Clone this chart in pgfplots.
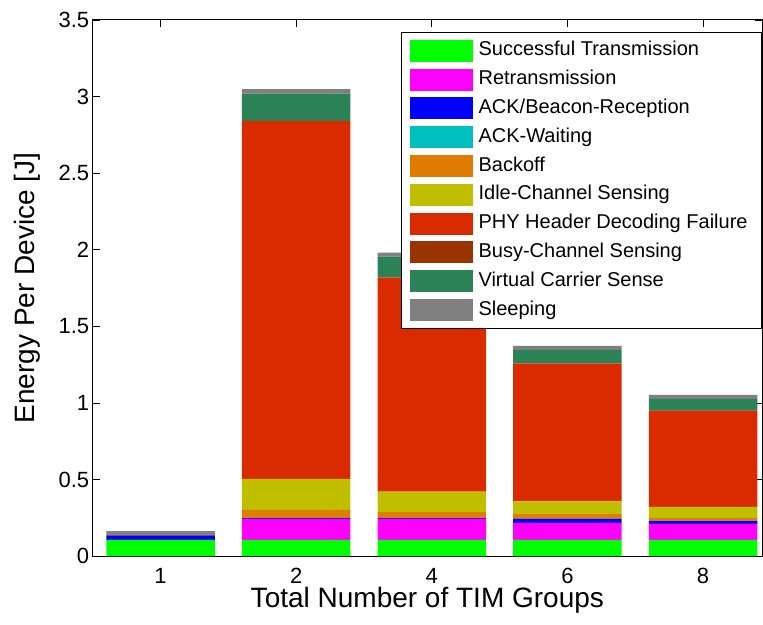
\documentclass[border=0pt]{standalone}
\usepackage{fontspec}
\setmainfont{Liberation Sans}
\usepackage{pgfplots}
\usepackage{pgfplotstable}
\pgfplotsset{compat=1.18}
\definecolor{cSucc}{RGB}{0,255,0}
\definecolor{cRetx}{RGB}{255,0,255}
\definecolor{cAck}{RGB}{0,0,255}
\definecolor{cAckW}{RGB}{0,191,191}
\definecolor{cBack}{RGB}{224,125,0}
\definecolor{cIdle}{RGB}{191,191,0}
\definecolor{cPhy}{RGB}{218,42,0}
\definecolor{cBusy}{RGB}{153,51,0}
\definecolor{cVcs}{RGB}{44,130,87}
\definecolor{cSleep}{RGB}{128,128,128}
\pgfplotstableread{
x succ retx ack ackw backoff idle phy busy vcs sleep
1 0.105 0.000 0.028 0.000 0.000 0.000 0.000 0.004 0.000 0.026
2 0.105 0.137 0.006 0.001 0.052 0.203 2.335 0.002 0.178 0.030
3 0.105 0.137 0.006 0.001 0.038 0.133 1.398 0.002 0.135 0.026
4 0.105 0.111 0.026 0.001 0.031 0.083 0.899 0.002 0.088 0.026
5 0.105 0.104 0.019 0.001 0.019 0.072 0.627 0.002 0.077 0.026
}\datatable
\begin{document}
\begin{tikzpicture}
\begin{axis}[
  at={(0,0)}, anchor=south west,
  scale only axis,
  width=669.3pt, height=536pt,
  xmin=0.5, xmax=5.435, ymin=0, ymax=3.5,
  enlargelimits=false,
  ybar stacked, bar width=0.8,
  xtick={1,2,3,4,5}, xticklabels={1,2,4,6,8},
  ytick={0,0.5,1,1.5,2,2.5,3,3.5},
  tick align=inside,
  major tick length=7pt,
  tick style={black, line width=0.6pt},
  axis line style={black, line width=1pt},
  /pgf/number format/assume math mode=true,
  tick label style={font=\fontsize{22}{26}\selectfont},
  xticklabel style={anchor=base, yshift=-27pt, inner sep=0pt},
  label style={font=\fontsize{28}{34}\selectfont},
  xlabel={Total Number of TIM Groups},
  ylabel={Energy Per Device [J]},
  xlabel style={at={(axis description cs:0.5,0)}, anchor=base, yshift=-51pt, inner sep=0pt},
  ylabel style={at={(axis description cs:-0.0787,0.5)}, anchor=south, inner sep=0pt},
  legend image code/.code={\fill[#1] (0pt,-11pt) rectangle (63pt,11pt);},
  legend style={
    at={(1,1)}, anchor=north east, yshift=-12pt,
    font=\fontsize{20}{24}\selectfont,
    draw=black, line width=0.8pt,
    inner xsep=8pt, inner ysep=7.4pt,
    row sep=6.8pt,
    nodes={inner xsep=6pt, inner ysep=0pt, text height=15pt, text depth=5pt},
    cells={anchor=west},
  },
]
\addplot[fill=cSucc, draw=none] table[x=x, y=succ] {\datatable};
\addplot[fill=cRetx, draw=none] table[x=x, y=retx] {\datatable};
\addplot[fill=cAck, draw=none] table[x=x, y=ack] {\datatable};
\addplot[fill=cAckW, draw=none] table[x=x, y=ackw] {\datatable};
\addplot[fill=cBack, draw=none] table[x=x, y=backoff] {\datatable};
\addplot[fill=cIdle, draw=none] table[x=x, y=idle] {\datatable};
\addplot[fill=cPhy, draw=none] table[x=x, y=phy] {\datatable};
\addplot[fill=cBusy, draw=none] table[x=x, y=busy] {\datatable};
\addplot[fill=cVcs, draw=none] table[x=x, y=vcs] {\datatable};
\addplot[fill=cSleep, draw=none] table[x=x, y=sleep] {\datatable};
\legend{Successful Transmission, Retransmission, ACK/Beacon-Reception, ACK-Waiting, Backoff, Idle-Channel Sensing, PHY Header Decoding Failure, Busy-Channel Sensing, Virtual Carrier Sense, Sleeping}
\end{axis}
\pgfresetboundingbox
\path[use as bounding box] (-92.7pt,-68pt) rectangle (670.3pt,556pt);
\end{tikzpicture}
\end{document}
